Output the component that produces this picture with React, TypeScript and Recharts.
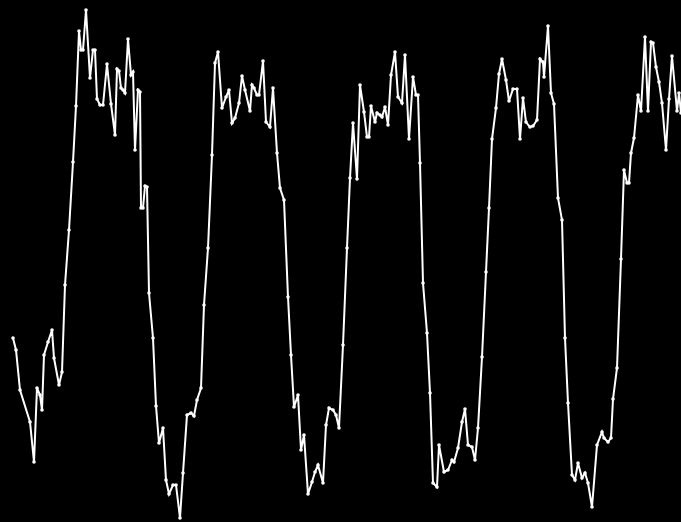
import { LineChart, Line, XAxis, YAxis } from "recharts";

// sample positions along the trace
const times = [
  13, 16, 20, 30, 34, 37, 40, 42, 44, 48,
  52, 54, 59, 62, 65, 69, 73, 76, 79, 81,
  83, 86, 90, 93, 95, 97, 100, 103, 107, 111,
  115, 117, 119, 121, 123, 125, 128, 131, 133, 135,
  138, 140, 141, 143, 145, 147, 149, 153, 156, 159,
  163, 166, 169, 173, 176, 180, 183, 187, 191, 194,
  197, 201, 204, 208, 212, 215, 218, 222, 226, 229,
  232, 235, 239, 242, 245, 250, 252, 254, 257, 259,
  263, 266, 270, 273, 277, 280, 284, 288, 291, 294,
  298, 301, 304, 308, 312, 315, 318, 323, 326, 329,
  333, 336, 339, 343, 347, 350, 353, 357, 360, 364,
  367, 369, 371, 375, 377, 380, 382, 385, 388, 391,
  395, 398, 402, 405, 409, 413, 416, 418, 420, 423,
  427, 430, 433, 437, 439, 444, 448, 452, 454, 458,
  462, 465, 468, 472, 475, 478, 482, 486, 489, 492,
  496, 499, 502, 506, 509, 513, 517, 520, 523, 526,
  530, 533, 537, 540, 543, 544, 548, 551, 554, 558,
  562, 565, 568, 572, 575, 578, 582, 585, 588, 592,
  597, 602, 604, 608, 611, 613, 617, 621, 624, 627,
  629, 631, 634, 638, 641, 645, 648, 651, 653, 656,
  659, 662, 666, 669, 672, 677, 679, 681,
];

const levels = [
  184, 172, 132, 100, 60, 134, 127, 112, 167, 180,
  192, 164, 137, 150, 237, 292, 360, 416, 491, 472,
  472, 512, 444, 472, 472, 423, 417, 417, 458, 418,
  387, 453, 451, 434, 432, 429, 483, 447, 450, 372,
  432, 430, 314, 314, 336, 335, 229, 184, 116, 79,
  94, 42, 28, 37, 37, 4, 49, 107, 109, 106,
  122, 134, 217, 274, 367, 459, 470, 414, 425, 432,
  399, 404, 419, 446, 432, 411, 437, 434, 427, 427,
  461, 400, 395, 434, 369, 334, 322, 225, 167, 115,
  127, 72, 87, 28, 40, 50, 57, 39, 97, 114,
  112, 107, 94, 177, 274, 344, 399, 343, 437, 410,
  385, 385, 416, 400, 409, 407, 405, 415, 397, 447,
  470, 425, 419, 467, 383, 445, 427, 427, 359, 239,
  189, 129, 39, 35, 77, 50, 52, 62, 60, 74,
  100, 113, 77, 75, 62, 94, 165, 250, 314, 383,
  414, 448, 463, 442, 421, 433, 433, 383, 424, 400,
  395, 396, 402, 463, 460, 445, 496, 429, 418, 324,
  302, 184, 119, 47, 42, 59, 44, 49, 39, 15,
  77, 90, 84, 80, 84, 123, 154, 263, 352, 339,
  339, 369, 384, 427, 411, 485, 411, 480, 479, 455,
  440, 419, 372, 423, 466, 411, 429, 409,
];

const data = times.map((t, i) => ({ t, v: levels[i] }));

export default function App() {
  return (
    <div
      style={{
        position: "absolute",
        left: 0,
        top: 0,
        width: 681,
        height: 522,
        background: "#000",
      }}
    >
      <LineChart
        width={681}
        height={522}
        data={data}
        margin={{ top: 0, right: 0, bottom: 0, left: 0 }}
      >
        <XAxis dataKey="t" type="number" domain={[0, 681]} hide />
        <YAxis type="number" domain={[0, 522]} hide />
        <Line
          type="linear"
          dataKey="v"
          stroke="#ffffff"
          strokeWidth={2}
          dot={{ r: 1.8, fill: "#ffffff", stroke: "none" }}
          activeDot={false}
          isAnimationActive={false}
        />
      </LineChart>
    </div>
  );
}
